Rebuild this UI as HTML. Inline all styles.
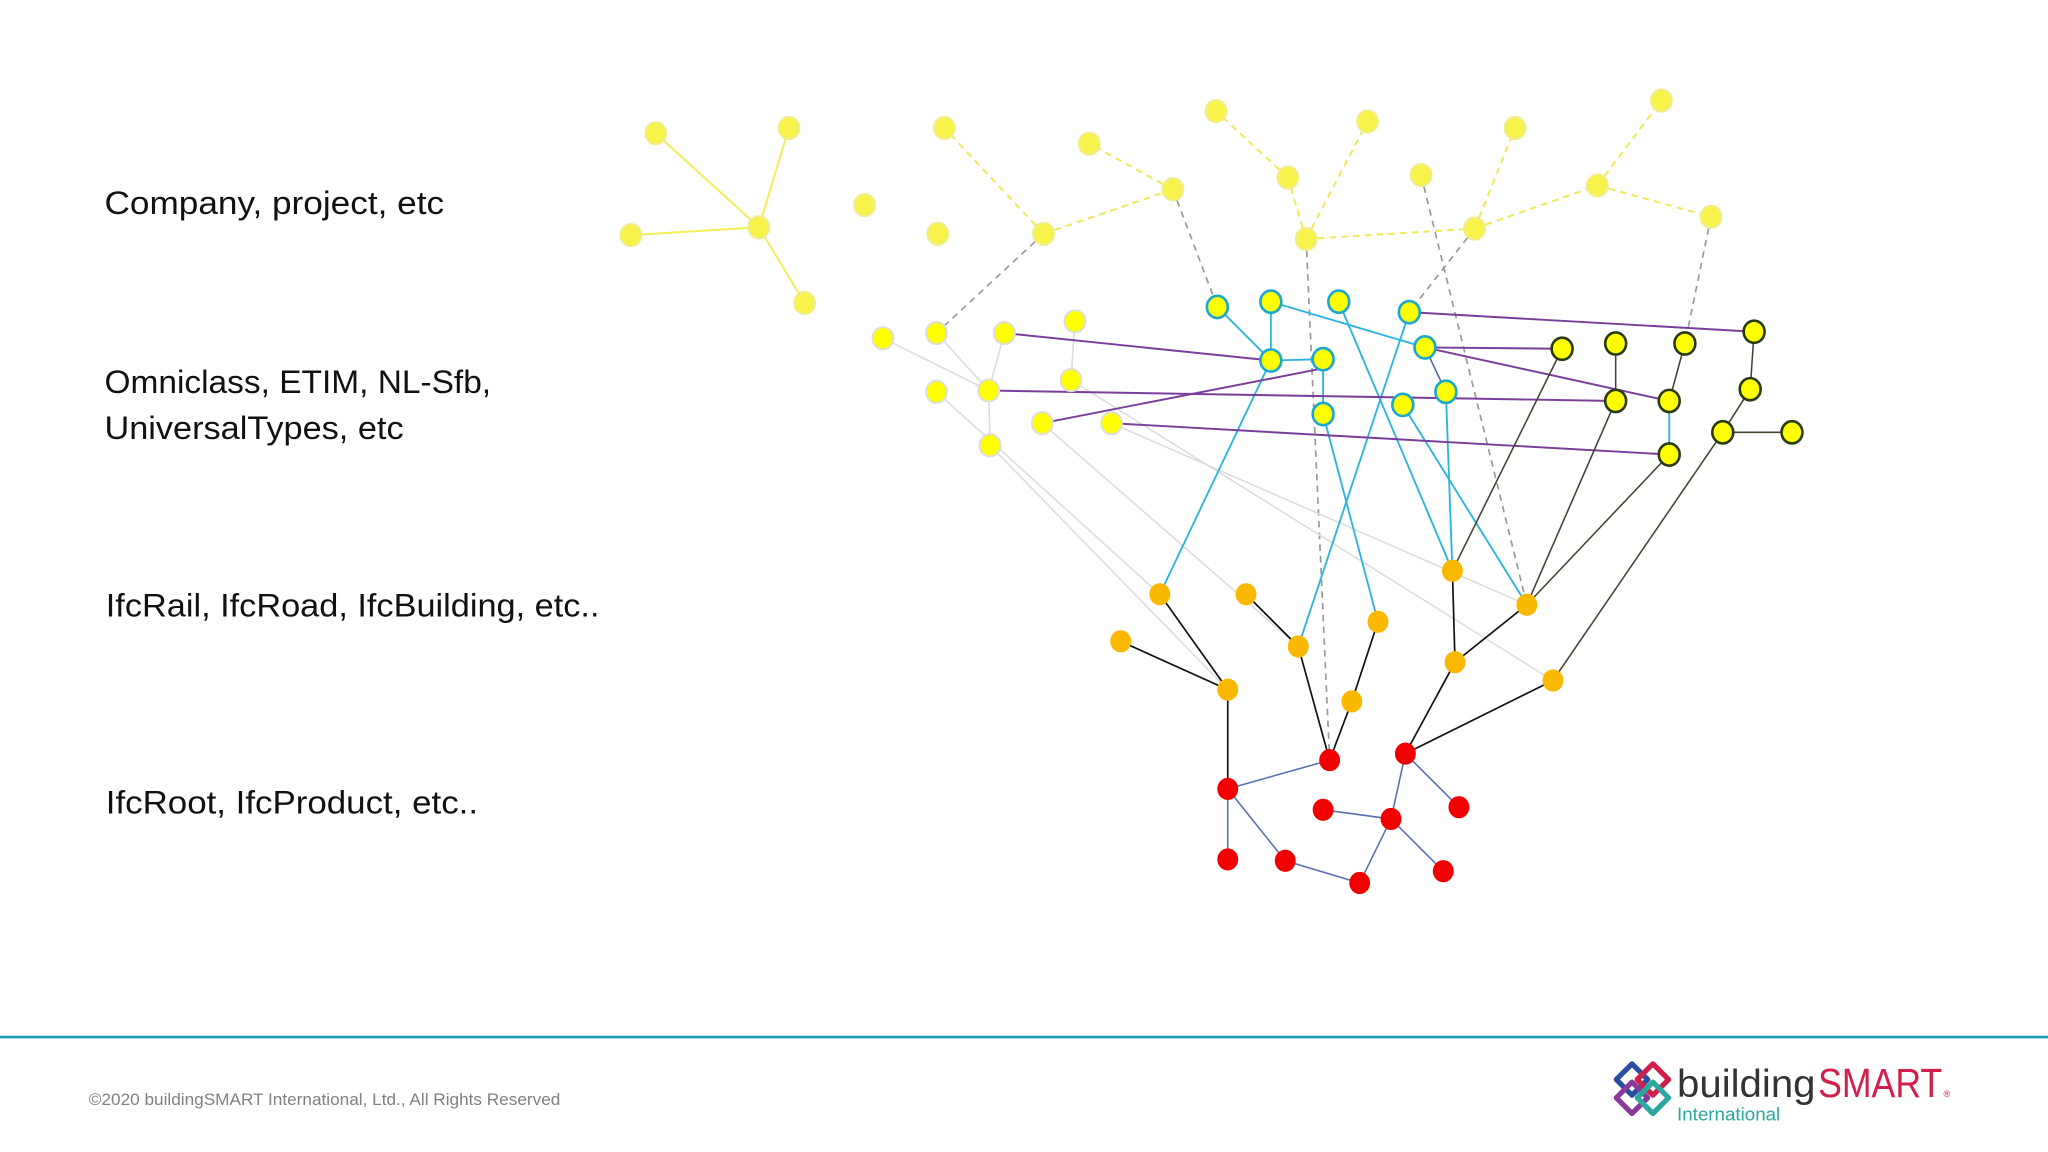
<!DOCTYPE html>
<html><head><meta charset="utf-8"><style>
html,body{margin:0;padding:0;background:#fff;width:2048px;height:1152px;overflow:hidden}
svg{display:block}
text{font-family:"Liberation Sans",sans-serif}
</style></head><body>
<svg width="2048" height="1152" viewBox="0 0 1568 882" xmlns="http://www.w3.org/2000/svg">
<rect width="1568" height="882" fill="#fff"/>
<g font-size="25" fill="#111">
<text x="80" y="164" textLength="260" lengthAdjust="spacingAndGlyphs">Company, project, etc</text>
<text x="80" y="301" textLength="296" lengthAdjust="spacingAndGlyphs">Omniclass, ETIM, NL-Sfb,</text>
<text x="80" y="336" textLength="229" lengthAdjust="spacingAndGlyphs">UniversalTypes, etc</text>
<text x="81" y="472" textLength="378" lengthAdjust="spacingAndGlyphs">IfcRail, IfcRoad, IfcBuilding, etc..</text>
<text x="81" y="623" textLength="285" lengthAdjust="spacingAndGlyphs">IfcRoot, IfcProduct, etc..</text>
</g>
<g stroke="#f2ee55" stroke-width="1.5" fill="none">
<line x1="581" y1="174" x2="502" y2="102"/><line x1="581" y1="174" x2="604" y2="98"/>
<line x1="581" y1="174" x2="483" y2="180"/><line x1="581" y1="174" x2="616" y2="232"/>
</g>
<g stroke="#f0e850" stroke-width="1.5" stroke-dasharray="5,4" fill="none">
<line x1="799" y1="179" x2="723" y2="98"/><line x1="799" y1="179" x2="898" y2="145"/>
<line x1="898" y1="145" x2="834" y2="110"/>
<line x1="1000" y1="183" x2="986" y2="136"/><line x1="1000" y1="183" x2="1047" y2="93"/>
<line x1="986" y1="136" x2="931" y2="85"/><line x1="1000" y1="183" x2="1129" y2="175"/>
<line x1="1129" y1="175" x2="1160" y2="98"/><line x1="1129" y1="175" x2="1223" y2="142"/>
<line x1="1223" y1="142" x2="1272" y2="77"/><line x1="1223" y1="142" x2="1310" y2="166"/>
</g>
<g stroke="#999" stroke-width="1.3" stroke-dasharray="5,4" fill="none">
<line x1="799" y1="179" x2="717" y2="255"/><line x1="898" y1="145" x2="932" y2="235"/>
<line x1="1000" y1="183" x2="1018" y2="582"/><line x1="1129" y1="175" x2="1079" y2="239"/>
<line x1="1088" y1="134" x2="1169" y2="463"/><line x1="1310" y1="166" x2="1290" y2="263"/>
</g>
<g stroke="#dcdcdc" stroke-width="1.2" fill="none">
<line x1="676" y1="259" x2="757" y2="299"/><line x1="717" y1="255" x2="757" y2="299"/>
<line x1="769" y1="255" x2="757" y2="299"/><line x1="823" y1="246" x2="820" y2="291"/>
<line x1="757" y1="299" x2="758" y2="341"/><line x1="717" y1="300" x2="888" y2="455"/>
<line x1="758" y1="341" x2="940" y2="528"/><line x1="798" y1="324" x2="994" y2="495"/>
<line x1="820" y1="291" x2="1189" y2="521"/><line x1="851" y1="324" x2="1169" y2="463"/>
</g>
<g stroke="#29b4e0" stroke-width="1.4" fill="none">
<line x1="932" y1="235" x2="973" y2="276"/><line x1="973" y1="231" x2="973" y2="276"/>
<line x1="973" y1="276" x2="1013" y2="275"/><line x1="1013" y1="275" x2="1013" y2="317"/>
<line x1="973" y1="231" x2="1091" y2="266"/><line x1="973" y1="276" x2="888" y2="455"/>
<line x1="1013" y1="317" x2="1055" y2="476"/><line x1="1025" y1="231" x2="1112" y2="437"/>
<line x1="1079" y1="239" x2="994" y2="495"/><line x1="1107" y1="300" x2="1112" y2="437"/>
<line x1="1074" y1="310" x2="1169" y2="463"/><line x1="1278" y1="307" x2="1278" y2="348"/>
</g>
<line x1="1091" y1="266" x2="1107" y2="300" stroke="#5566aa" stroke-width="1.2"/>
<g stroke="#7a3d9a" stroke-width="1.5" fill="none">
<line x1="769" y1="255" x2="973" y2="276"/><line x1="798" y1="324" x2="1013" y2="282"/>
<line x1="757" y1="299" x2="1237" y2="307"/><line x1="851" y1="324" x2="1278" y2="348"/>
<line x1="1079" y1="239" x2="1343" y2="254"/><line x1="1091" y1="266" x2="1196" y2="267"/>
<line x1="1091" y1="266" x2="1278" y2="307"/>
</g>
<g stroke="#444433" stroke-width="1.2" fill="none">
<line x1="1237" y1="263" x2="1237" y2="307"/><line x1="1290" y1="263" x2="1278" y2="307"/>
<line x1="1343" y1="254" x2="1340" y2="298"/><line x1="1340" y1="298" x2="1319" y2="331"/>
<line x1="1319" y1="331" x2="1372" y2="331"/>
<line x1="1196" y1="267" x2="1112" y2="437"/><line x1="1237" y1="307" x2="1169" y2="463"/>
<line x1="1278" y1="348" x2="1169" y2="463"/><line x1="1319" y1="331" x2="1189" y2="521"/>
</g>
<g stroke="#111" stroke-width="1.3" fill="none">
<line x1="888" y1="455" x2="940" y2="528"/><line x1="858" y1="491" x2="940" y2="528"/>
<line x1="954" y1="455" x2="994" y2="495"/><line x1="994" y1="495" x2="1018" y2="582"/>
<line x1="1055" y1="476" x2="1035" y2="537"/><line x1="1035" y1="537" x2="1018" y2="582"/>
<line x1="1112" y1="437" x2="1114" y2="507"/><line x1="1169" y1="463" x2="1114" y2="507"/>
<line x1="1114" y1="507" x2="1076" y2="577"/><line x1="1189" y1="521" x2="1076" y2="577"/>
<line x1="940" y1="528" x2="940" y2="604"/>
</g>
<g stroke="#5a6fb0" stroke-width="1.2" fill="none">
<line x1="940" y1="604" x2="1018" y2="582"/><line x1="940" y1="604" x2="940" y2="658"/>
<line x1="940" y1="604" x2="984" y2="659"/><line x1="984" y1="659" x2="1041" y2="676"/>
<line x1="1041" y1="676" x2="1065" y2="627"/><line x1="1013" y1="620" x2="1065" y2="627"/>
<line x1="1065" y1="627" x2="1076" y2="577"/><line x1="1076" y1="577" x2="1117" y2="618"/>
<line x1="1065" y1="627" x2="1105" y2="667"/>
</g>
<g fill="#f7f34a" stroke="#f0ec90" stroke-width="1.5">
<ellipse cx="502" cy="102" rx="8" ry="8.5"/><ellipse cx="604" cy="98" rx="8" ry="8.5"/>
<ellipse cx="483" cy="180" rx="8" ry="8.5"/><ellipse cx="581" cy="174" rx="8" ry="8.5"/>
<ellipse cx="616" cy="232" rx="8" ry="8.5"/><ellipse cx="662" cy="157" rx="8" ry="8.5"/>
<ellipse cx="718" cy="179" rx="8" ry="8.5"/><ellipse cx="723" cy="98" rx="8" ry="8.5"/>
<ellipse cx="834" cy="110" rx="8" ry="8.5"/><ellipse cx="799" cy="179" rx="8" ry="8.5"/>
<ellipse cx="898" cy="145" rx="8" ry="8.5"/><ellipse cx="931" cy="85" rx="8" ry="8.5"/>
<ellipse cx="986" cy="136" rx="8" ry="8.5"/><ellipse cx="1047" cy="93" rx="8" ry="8.5"/>
<ellipse cx="1000" cy="183" rx="8" ry="8.5"/><ellipse cx="1088" cy="134" rx="8" ry="8.5"/>
<ellipse cx="1160" cy="98" rx="8" ry="8.5"/><ellipse cx="1129" cy="175" rx="8" ry="8.5"/>
<ellipse cx="1223" cy="142" rx="8" ry="8.5"/><ellipse cx="1272" cy="77" rx="8" ry="8.5"/>
<ellipse cx="1310" cy="166" rx="8" ry="8.5"/>
</g>
<g fill="#ffff00" stroke="#dddddd" stroke-width="1.5">
<ellipse cx="676" cy="259" rx="8" ry="8.5"/><ellipse cx="717" cy="255" rx="8" ry="8.5"/>
<ellipse cx="769" cy="255" rx="8" ry="8.5"/><ellipse cx="823" cy="246" rx="8" ry="8.5"/>
<ellipse cx="717" cy="300" rx="8" ry="8.5"/><ellipse cx="757" cy="299" rx="8" ry="8.5"/>
<ellipse cx="820" cy="291" rx="8" ry="8.5"/><ellipse cx="798" cy="324" rx="8" ry="8.5"/>
<ellipse cx="851" cy="324" rx="8" ry="8.5"/><ellipse cx="758" cy="341" rx="8" ry="8.5"/>
</g>
<g fill="#ffff00" stroke="#1aa8d0" stroke-width="2">
<ellipse cx="932" cy="235" rx="8" ry="8.5"/><ellipse cx="973" cy="231" rx="8" ry="8.5"/>
<ellipse cx="1025" cy="231" rx="8" ry="8.5"/><ellipse cx="1079" cy="239" rx="8" ry="8.5"/>
<ellipse cx="973" cy="276" rx="8" ry="8.5"/><ellipse cx="1013" cy="275" rx="8" ry="8.5"/>
<ellipse cx="1091" cy="266" rx="8" ry="8.5"/><ellipse cx="1107" cy="300" rx="8" ry="8.5"/>
<ellipse cx="1013" cy="317" rx="8" ry="8.5"/><ellipse cx="1074" cy="310" rx="8" ry="8.5"/>
</g>
<g fill="#ffff00" stroke="#2a3a10" stroke-width="2">
<ellipse cx="1196" cy="267" rx="8" ry="8.5"/><ellipse cx="1237" cy="263" rx="8" ry="8.5"/>
<ellipse cx="1290" cy="263" rx="8" ry="8.5"/><ellipse cx="1343" cy="254" rx="8" ry="8.5"/>
<ellipse cx="1237" cy="307" rx="8" ry="8.5"/><ellipse cx="1278" cy="307" rx="8" ry="8.5"/>
<ellipse cx="1340" cy="298" rx="8" ry="8.5"/><ellipse cx="1278" cy="348" rx="8" ry="8.5"/>
<ellipse cx="1319" cy="331" rx="8" ry="8.5"/><ellipse cx="1372" cy="331" rx="8" ry="8.5"/>
</g>
<g fill="#fbb800">
<ellipse cx="888" cy="455" rx="8" ry="8.5"/><ellipse cx="954" cy="455" rx="8" ry="8.5"/>
<ellipse cx="858" cy="491" rx="8" ry="8.5"/><ellipse cx="940" cy="528" rx="8" ry="8.5"/>
<ellipse cx="994" cy="495" rx="8" ry="8.5"/><ellipse cx="1055" cy="476" rx="8" ry="8.5"/>
<ellipse cx="1035" cy="537" rx="8" ry="8.5"/><ellipse cx="1112" cy="437" rx="8" ry="8.5"/>
<ellipse cx="1169" cy="463" rx="8" ry="8.5"/><ellipse cx="1114" cy="507" rx="8" ry="8.5"/>
<ellipse cx="1189" cy="521" rx="8" ry="8.5"/>
</g>
<g fill="#f00000">
<ellipse cx="1018" cy="582" rx="8" ry="8.5"/><ellipse cx="1076" cy="577" rx="8" ry="8.5"/>
<ellipse cx="940" cy="604" rx="8" ry="8.5"/><ellipse cx="1013" cy="620" rx="8" ry="8.5"/>
<ellipse cx="1065" cy="627" rx="8" ry="8.5"/><ellipse cx="1117" cy="618" rx="8" ry="8.5"/>
<ellipse cx="940" cy="658" rx="8" ry="8.5"/><ellipse cx="984" cy="659" rx="8" ry="8.5"/>
<ellipse cx="1041" cy="676" rx="8" ry="8.5"/><ellipse cx="1105" cy="667" rx="8" ry="8.5"/>
</g>
<rect x="0" y="793" width="1568" height="2" fill="#1a9bb5"/>
<text x="68" y="846" font-size="13" fill="#808080" textLength="361" lengthAdjust="spacingAndGlyphs">©2020 buildingSMART International, Ltd., All Rights Reserved</text>
<g fill="none" stroke-width="4" stroke-linejoin="round">
<rect x="1241" y="818" width="17" height="17" transform="rotate(45 1249.5 826.5)" stroke="#2a4fa0"/>
<rect x="1257" y="818" width="17" height="17" transform="rotate(45 1265.5 826.5)" stroke="#d0204a"/>
<rect x="1241" y="832" width="17" height="17" transform="rotate(45 1249.5 840.5)" stroke="#8a3a9a"/>
<rect x="1257" y="832" width="17" height="17" transform="rotate(45 1265.5 840.5)" stroke="#2aa8a0"/>
</g>
<text x="1284" y="840" font-size="30" fill="#333" textLength="106" lengthAdjust="spacingAndGlyphs">building</text>
<text x="1392" y="840" font-size="31" fill="#d0204a" textLength="95" lengthAdjust="spacingAndGlyphs">SMART</text>
<text x="1488" y="840" font-size="7" fill="#d0204a">®</text>
<text x="1284" y="858" font-size="14" fill="#2aa8a0" textLength="79" lengthAdjust="spacingAndGlyphs">International</text>
</svg>
</body></html>
